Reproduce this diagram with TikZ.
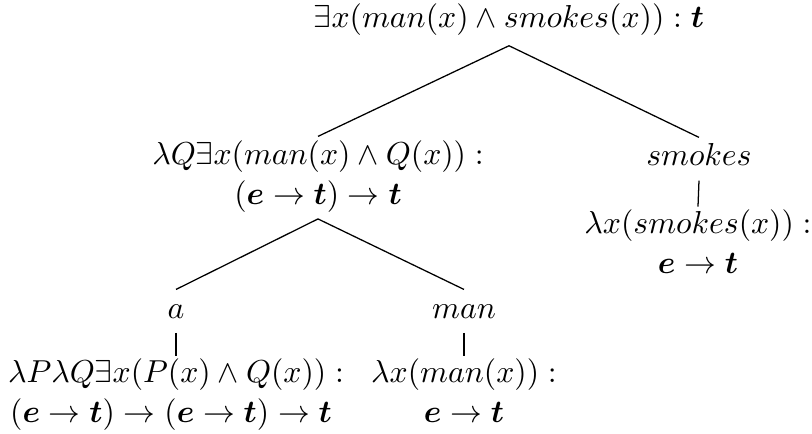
\documentclass[tikz,border=0pt]{standalone}
\usepackage{amsmath,amssymb,bm}
\begin{document}
\begin{tikzpicture}[x=0.315pt,y=-0.315pt,
  lbl/.style={anchor=base,inner sep=0pt,text height=7.5pt,text depth=2.5pt},
  branch/.style={draw=black,line width=0.4pt}]
\useasboundingbox (0,0) rectangle (812,433);
% nodes
\node[lbl] (root)  at (509,27)  {$\exists x(man(x)\wedge smokes(x)):\bm{t}$};
\node[lbl] (qp1)   at (318,164) {$\lambda Q\exists x(man(x)\wedge Q(x)):$};
\node[lbl] (qp2)   at (318,204) {$(\bm{e}\to\bm{t})\to\bm{t}$};
\node[lbl] (sm)    at (699,165) {$smokes$};
\node[lbl] (smL1)  at (698,233) {$\lambda x(smokes(x)):$};
\node[lbl] (smL2)  at (698,273) {$\bm{e}\to\bm{t}$};
\node[lbl] (a)     at (176,318) {$a$};
\node[lbl] (aL1)   at (176,382) {$\lambda P\lambda Q\exists x(P(x)\wedge Q(x)):$};
\node[lbl] (aL2)   at (171,422) {$(\bm{e}\to\bm{t})\to(\bm{e}\to\bm{t})\to\bm{t}$};
\node[lbl] (man)   at (464,318) {$man$};
\node[lbl] (manL1) at (464,382) {$\lambda x(man(x)):$};
\node[lbl] (manL2) at (464,422) {$\bm{e}\to\bm{t}$};
% branches
\draw[branch] ([yshift=-3.2pt]root.south) -- ([yshift=1pt]qp1.north);
\draw[branch] ([yshift=-3.2pt]root.south) -- ([yshift=1pt]sm.north);
\draw[branch] ([yshift=-2pt]qp2.south) -- ([yshift=1.3pt]a.north);
\draw[branch] ([yshift=-2pt]qp2.south) -- ([yshift=1.3pt]man.north);
\draw[branch] ([yshift=-2.2pt]sm.south) -- ([yshift=0.6pt]smL1.north);
\draw[branch] ([yshift=-2pt]a.south) -- ([yshift=0.6pt]aL1.north);
\draw[branch] ([yshift=-2pt]man.south) -- ([yshift=0.6pt]manL1.north);
\end{tikzpicture}
\end{document}
